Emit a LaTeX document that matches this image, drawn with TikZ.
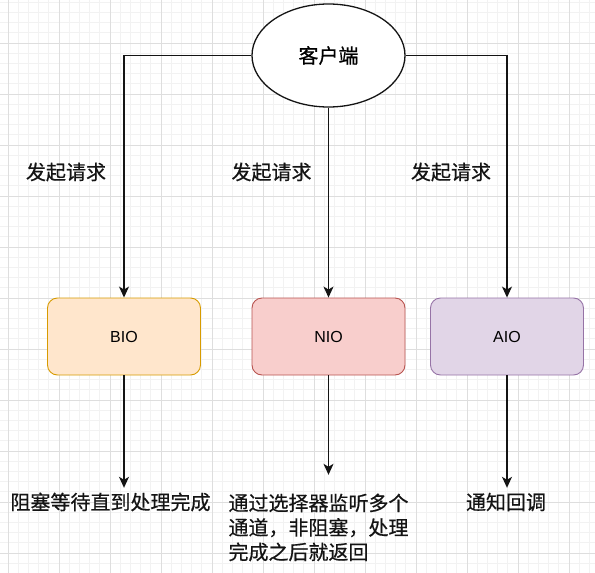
\documentclass[tikz,border=0pt]{standalone}
\usepackage{fontspec}
\setmainfont{Noto Sans CJK SC}[RawFeature={embolden=0.6}]
\newfontfamily\latinfont{Liberation Sans}
\usetikzlibrary{arrows.meta,shapes.geometric}
\definecolor{ink}{RGB}{20,20,20}
\definecolor{gridminor}{RGB}{242,242,242}
\definecolor{gridmajor}{RGB}{222,222,222}
\definecolor{biofill}{RGB}{255,230,204}
\definecolor{biodraw}{RGB}{215,155,0}
\definecolor{niofill}{RGB}{248,206,204}
\definecolor{niodraw}{RGB}{184,84,80}
\definecolor{aiofill}{RGB}{225,213,231}
\definecolor{aiodraw}{RGB}{150,115,166}

\tikzset{
  iobox/.style={rounded corners=10pt, line width=0.9pt, minimum width=153pt,
    minimum height=77pt, inner sep=0pt, font=\latinfont\fontsize{16}{19}\selectfont},
  arr/.style={ink, line width=1.3pt, -{Stealth[length=11pt,width=10pt,inset=3pt]}},
  reqlabel/.style={font=\fontsize{20}{24}\selectfont, inner sep=0pt, text=ink},
  result/.style={font=\fontsize{20}{24.5}\selectfont, inner xsep=0pt, inner ysep=0pt,
    align=left, text=ink}
}

\begin{document}
\begin{tikzpicture}[x=1pt, y=-1pt]
\useasboundingbox (0,0) rectangle (595,573);
\fill[white] (0,0) rectangle (595,573);
% grid
\begin{scope}
\clip (0,0) rectangle (595,573);
\foreach \i in {-1,...,58} {
  \draw[gridminor, line width=0.8pt] ({8+10.2*\i},0) -- ({8+10.2*\i},573);
}
\foreach \i in {-5,...,52} {
  \draw[gridminor, line width=0.8pt] (0,{43+10.2*\i}) -- (595,{43+10.2*\i});
}
\foreach \i in {0,...,11} {
  \draw[gridmajor, line width=1pt] ({8+51*\i},0) -- ({8+51*\i},573);
}
\foreach \i in {-1,...,10} {
  \draw[gridmajor, line width=1pt] (0,{43+51*\i}) -- (595,{43+51*\i});
}
\end{scope}

% client
\node[ellipse, draw=ink, fill=white, line width=1.3pt, minimum width=153pt,
  minimum height=103pt, inner sep=0pt, font=\fontsize{20}{24}\selectfont]
  (client) at (328.5,55.5) {客户端};

% io models
\node[iobox, draw=biodraw, fill=biofill] (bio) at (124,336.5) {BIO};
\node[iobox, draw=niodraw, fill=niofill] (nio) at (328.5,336.5) {NIO};
\node[iobox, draw=aiodraw, fill=aiofill] (aio) at (507,336.5) {AIO};

% requests
\draw[arr] (client.west) -| (bio.north);
\draw[arr] (client.south) -- (nio.north);
\draw[arr] (client.east) -| (aio.north);
\node[reqlabel] (reqb) at (66,172) {发起请求};
\node[reqlabel] (reqn) at (271.5,172) {发起请求};
\node[reqlabel] (reqa) at (451,172) {发起请求};

% results
\node[result, minimum height=28pt] (bres) at (110.5,502) {阻塞等待直到处理完成};
\node[result, minimum height=105pt] (nres) at (318.5,527.5)
  {通过选择器监听多个\\通道，非阻塞，处理\\完成之后就返回};
\node[result, minimum height=28pt] (ares) at (506,502) {通知回调};
\draw[arr] (bio.south) -- (bio.south |- bres.north);
\draw[arr] (nio.south) -- (nio.south |- nres.north);
\draw[arr] (aio.south) -- (aio.south |- ares.north);
\end{tikzpicture}
\end{document}
